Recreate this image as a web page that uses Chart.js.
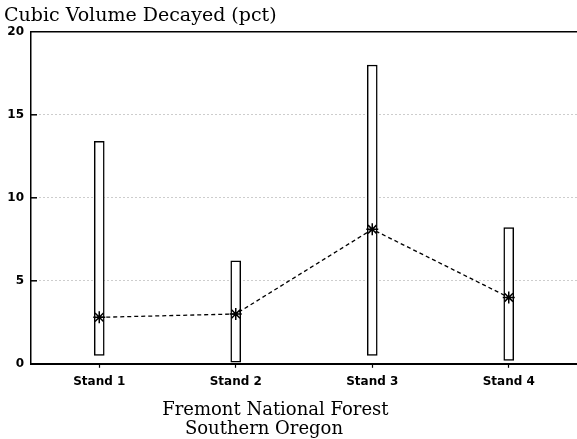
<!DOCTYPE html>
<html>
<head>
<meta charset="utf-8">
<script src="https://cdn.jsdelivr.net/npm/chart.js@4"></script>
<style>
    html, body { margin: 0; padding: 0; background: #fff; }
    #wrap { width: 577px; height: 439px; }
</style>
</head>
<body>
<div id="wrap"><canvas id="decayChart" width="577" height="439"></canvas></div>
<script>
// values
const stands = ['Stand 1', 'Stand 2', 'Stand 3', 'Stand 4'];
const rangeLow = [0.5, 0.1, 0.5, 0.2];
const rangeHigh = [13.4, 6.2, 18.0, 8.2];
const meanDecay = [2.8, 3.0, 8.1, 4.0];
const yTicks = [0, 5, 10, 15, 20];

const serif = '"DejaVu Serif", "Liberation Serif", serif';
const sans = '"DejaVu Sans", "Liberation Sans", sans-serif';

// short inward tick marks on the y axis
const innerTicks = {
    id: 'innerTicks',
    afterDraw(chart) {
        const { ctx, chartArea, scales } = chart;
        ctx.save();
        ctx.strokeStyle = '#000';
        ctx.lineWidth = 1.5;
        yTicks.slice(1, -1).forEach(v => {
            const y = scales.y.getPixelForValue(v);
            ctx.beginPath();
            ctx.moveTo(chartArea.left, y);
            ctx.lineTo(chartArea.left + 6, y);
            ctx.stroke();
        });
        ctx.restore();
    }
};

const ctx = document.getElementById('decayChart').getContext('2d');
new Chart(ctx, {
    type: 'bar',
    data: {
        labels: stands,
        datasets: [
            {
                type: 'line',
                label: 'Mean',
                data: meanDecay,
                borderColor: '#000',
                borderWidth: 1.3,
                borderDash: [4, 3],
                pointStyle: 'star',
                pointRadius: 6,
                pointBorderWidth: 1.5,
                pointBorderColor: '#000',
                pointBackgroundColor: '#000',
                fill: false,
                order: 0
            },
            {
                label: 'Range',
                data: stands.map((s, i) => [rangeLow[i], rangeHigh[i]]),
                backgroundColor: '#fff',
                borderColor: '#000',
                borderWidth: 1.5,
                borderSkipped: false,
                barThickness: 10,
                order: 1
            }
        ]
    },
    options: {
        responsive: false,
        animation: false,
        layout: { autoPadding: false, padding: { left: 4, right: 0, top: 0, bottom: 0 } },
        plugins: {
            legend: { display: false },
            tooltip: { enabled: false },
            title: {
                display: true,
                text: 'Cubic Volume Decayed (pct)',
                align: 'start',
                color: '#000',
                font: { family: serif, size: 19, weight: 'normal', lineHeight: 1.2 },
                padding: { top: 5, bottom: 4 }
            }
        },
        scales: {
            x: {
                offset: true,
                afterFit(scale) { scale.paddingLeft = 0; scale.paddingRight = 0; },
                grid: { offset: false, drawOnChartArea: false, drawTicks: true, tickLength: 4, color: '#000', tickWidth: 1.2 },
                border: { color: '#000', width: 2 },
                ticks: { color: '#000', font: { family: sans, size: 12, weight: 'bold' }, padding: 7 },
                title: {
                    display: true,
                    // trailing spaces pull the centred lines left, as in the original print
                    text: ['Fremont National Forest          ', 'Southern Oregon              '],
                    color: '#000',
                    font: { family: serif, size: 18, weight: 'normal', lineHeight: 1.05 },
                    padding: { top: 5, bottom: 0 }
                }
            },
            xTop: {
                type: 'category',
                position: 'top',
                offset: true,
                afterFit(scale) { scale.paddingLeft = 0; scale.paddingRight = 0; },
                ticks: { display: false },
                grid: { display: false, drawTicks: false },
                border: { color: '#000', width: 1.5 }
            },
            y: {
                min: 0,
                max: 20,
                afterBuildTicks(scale) {
                    scale.ticks = yTicks.map(v => ({ value: v }));
                },
                afterFit(scale) { scale.width = 27; },
                grid: {
                    drawTicks: false,
                    color: c => (c.tick && c.tick.value > 0 && c.tick.value < 20) ? '#9a9a9a' : 'rgba(0,0,0,0)',
                    lineWidth: 1
                },
                border: { color: '#000', width: 1.5, dash: [1, 3] },
                ticks: { color: '#000', font: { family: sans, size: 12, weight: 'bold' }, padding: 7 }
            }
        }
    },
    plugins: [innerTicks]
});
</script>
</body>
</html>
